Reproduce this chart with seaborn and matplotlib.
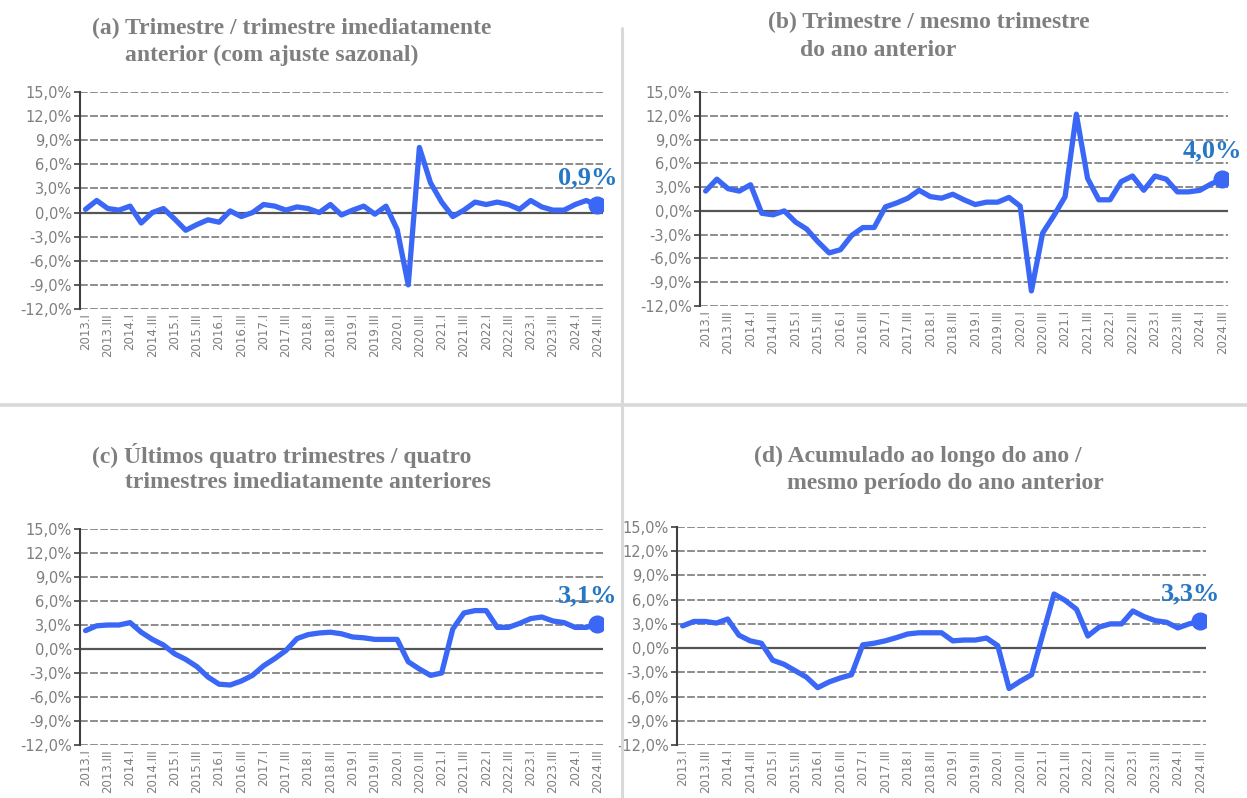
import numpy as np
import pandas as pd
import matplotlib
matplotlib.use("Agg")
import matplotlib.pyplot as plt
import seaborn as sns
from matplotlib.lines import Line2D

# quarters 2013.I .. 2024.III
quarters = [f"{y}.{q}" for y in range(2013, 2025) for q in ["I", "II", "III", "IV"]][:47]
tick_labels = quarters[::2]

# (a) trimestre / trimestre imediatamente anterior (sa)
qoq = [0.4, 1.5, 0.5, 0.3, 0.8, -1.3, 0.0, 0.5, -0.8, -2.2, -1.5, -0.9,
       -1.2, 0.2, -0.5, 0.0, 1.0, 0.8, 0.3, 0.7, 0.5, 0.0, 1.0, -0.3,
       0.3, 0.8, -0.2, 0.8, -2.1, -9.0, 8.1, 3.7, 1.3, -0.5, 0.3, 1.3,
       1.0, 1.3, 1.0, 0.4, 1.5, 0.7, 0.3, 0.3, 1.0, 1.5, 0.9]
# (b) trimestre / mesmo trimestre do ano anterior
yoy = [2.5, 4.0, 2.8, 2.5, 3.3, -0.3, -0.5, 0.0, -1.4, -2.3, -3.9, -5.3,
       -4.9, -3.1, -2.1, -2.1, 0.5, 1.0, 1.6, 2.6, 1.8, 1.6, 2.1, 1.4,
       0.8, 1.1, 1.1, 1.7, 0.6, -10.1, -2.8, -0.6, 1.8, 12.2, 4.1, 1.4,
       1.4, 3.7, 4.4, 2.6, 4.4, 4.0, 2.4, 2.4, 2.6, 3.4, 4.0]
# (c) ultimos quatro trimestres
four_q = [2.3, 2.9, 3.0, 3.0, 3.3, 2.1, 1.2, 0.5, -0.6, -1.3, -2.2, -3.5,
          -4.4, -4.5, -4.0, -3.3, -2.1, -1.2, -0.2, 1.3, 1.8, 2.0, 2.1, 1.9,
          1.5, 1.4, 1.2, 1.2, 1.2, -1.6, -2.5, -3.3, -3.0, 2.5, 4.5, 4.8,
          4.8, 2.7, 2.7, 3.2, 3.8, 4.0, 3.5, 3.3, 2.7, 2.7, 3.1]
# (d) acumulado ao longo do ano
ytd = [2.75, 3.3, 3.3, 3.1, 3.6, 1.6, 0.9, 0.6, -1.5, -2.0, -2.8, -3.6,
       -4.9, -4.2, -3.7, -3.3, 0.4, 0.6, 0.9, 1.3, 1.75, 1.9, 1.9, 1.9,
       0.9, 1.0, 1.0, 1.25, 0.3, -5.0, -4.1, -3.3, 1.7, 6.7, 5.9, 4.8,
       1.5, 2.6, 3.0, 3.0, 4.6, 3.9, 3.4, 3.2, 2.5, 3.0, 3.3]

last_labels = ["0,9%", "4,0%", "3,1%", "3,3%"]
titles = [
    ["(a) Trimestre / trimestre imediatamente", "anterior (com ajuste sazonal)"],
    ["(b) Trimestre / mesmo trimestre", "do ano anterior"],
    ["(c) Últimos quatro trimestres / quatro", "trimestres imediatamente anteriores"],
    ["(d) Acumulado ao longo do ano /", "mesmo período do ano anterior"],
]
yticks = [-12, -9, -6, -3, 0, 3, 6, 9, 12, 15]

sns.set_theme(style="white")
plt.rcParams['font.family'] = ['Liberation Sans Narrow', 'DejaVu Sans']

W, H = 1247, 798
fig = plt.figure(figsize=(W / 100, H / 100), dpi=100)

# axes boxes in pixels: left, right, top, bottom
boxes = [(80, 603, 92, 309), (700, 1228, 92, 306), (80, 603, 529, 745), (677, 1206, 527, 745)]
title_pos = [[(92, 28), (125, 55)], [(768, 22), (800, 50)],
             [(92, 456), (125, 483)], [(754, 456), (787, 483)]]

blue = "#3A67F5"
label_blue = "#2677C4"
grey_txt = "#7F7F7F"
serif = ["Liberation Serif", "DejaVu Serif"]

for vals, lab, box, ttl, tpos in zip([qoq, yoy, four_q, ytd], last_labels, boxes, titles, title_pos):
    l, r, t, b = box
    ax = fig.add_axes([l / W, 1 - b / H, (r - l) / W, (b - t) / H])
    df = pd.DataFrame({"x": np.arange(len(vals)), "v": vals})

    for v in yticks:
        if v == 0:
            ax.axhline(v, color="#555555", lw=1.6, zorder=1)
        else:
            ax.axhline(v, color="#8c8c8c", lw=1.4, ls=(0, (4, 1.2)), zorder=1)

    sns.lineplot(data=df, x="x", y="v", ax=ax, color=blue, linewidth=3.8, zorder=3)
    ax.plot(df["x"].iloc[-1], df["v"].iloc[-1], "o", color=blue, ms=12, zorder=4)
    ax.annotate(lab, (df["x"].iloc[-1], df["v"].iloc[-1]), xytext=(-10, 28),
                textcoords="offset pixels", ha="center", va="center",
                color=label_blue, fontsize=19, fontweight="bold",
                family=serif, zorder=5, annotation_clip=False)

    ax.set_xlim(-0.5, len(vals) - 0.5)
    ax.set_ylim(-12, 15)
    ax.set_yticks(yticks)
    ax.set_yticklabels([f"{v},0%" for v in yticks], color=grey_txt, fontsize=10.5)
    ax.set_xticks(np.arange(0, len(vals), 2))
    ax.set_xticklabels(tick_labels, rotation=90, color=grey_txt, fontsize=8.5)
    ax.tick_params(axis="y", left=True, length=4, width=1.2, color="#404040", pad=2)
    ax.tick_params(axis="x", bottom=False, length=0, pad=3)
    ax.set_xlabel("")
    ax.set_ylabel("")
    for s in ["top", "right", "bottom"]:
        ax.spines[s].set_visible(False)
    ax.spines["left"].set_color("#404040")
    ax.spines["left"].set_linewidth(1.5)
    ax.set_facecolor("none")

    for line, (tx, ty) in zip(ttl, tpos):
        fig.text(tx / W, 1 - ty / H, line, ha="left", va="center", color=grey_txt,
                 fontsize=17, fontweight="bold", family=serif)

# panel separators
fig.add_artist(Line2D([622 / W, 622 / W], [0, 1 - 28 / H], color="#d9d9d9", lw=2.2))
fig.add_artist(Line2D([0, 1], [1 - 405 / H, 1 - 405 / H], color="#d9d9d9", lw=2.6))

fig.savefig("out.png", dpi=100)
